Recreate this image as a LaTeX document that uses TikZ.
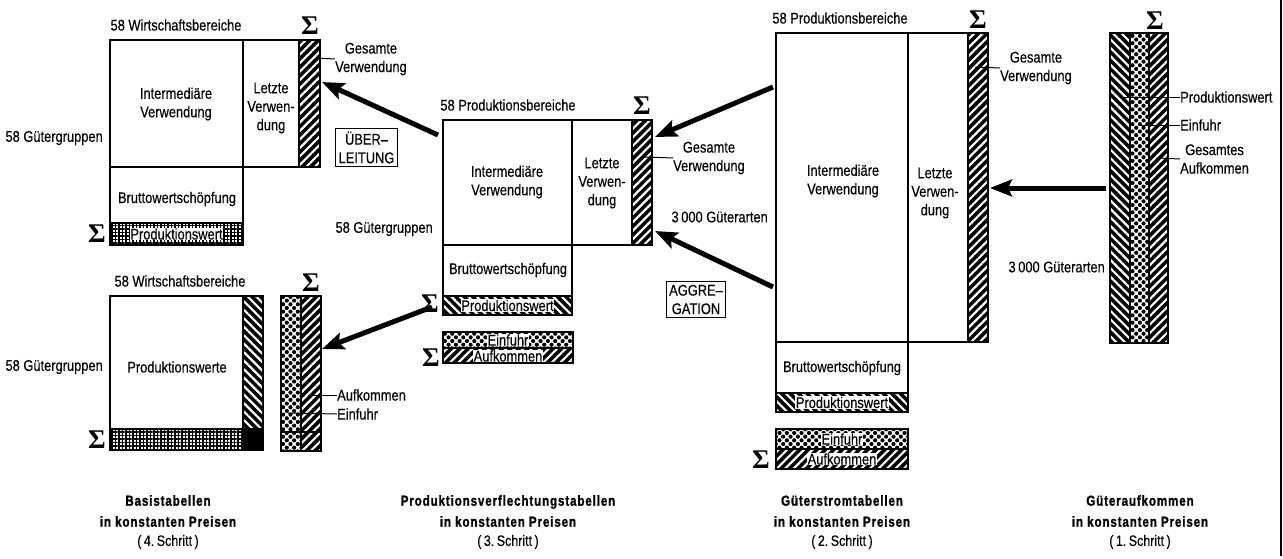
\documentclass[tikz,border=0pt]{standalone}
\usepackage{fontspec}
\setmainfont{Liberation Sans}[FakeStretch=0.83,FakeBold=0.3]
\newfontfamily\titlefont{Liberation Sans}[FakeStretch=0.8,LetterSpace=6,BoldFeatures={FakeBold=1.2}]
\newfontfamily\sigmafont{Liberation Serif}
\usetikzlibrary{patterns.meta,arrows.meta}
\tikzset{
  frame/.style={line width=2.6pt},
  sep/.style={line width=1.6pt},
  lbl/.style={font=\fontsize{15.5}{18.5}\selectfont, inner sep=0pt, align=center},
  sig/.style={font=\sigmafont\bfseries\fontsize{27}{27}\selectfont, inner sep=0pt},
  ttl/.style={font=\titlefont\bfseries\fontsize{14.5}{21}\selectfont, align=center, inner sep=0pt},
  stp/.style={font=\fontsize{15}{16}\selectfont, inner sep=0pt},
  hne/.style={preaction={fill=black}, pattern={Lines[angle=45,distance=6pt,line width=2.2pt]}, pattern color=white},
  hnw/.style={preaction={fill=black}, pattern={Lines[angle=-45,distance=6pt,line width=2.2pt]}, pattern color=white},
  dotfill/.style={preaction={fill=white}, pattern={Dots[radius=2.1pt,distance=5.2pt,angle=45]}, pattern color=black},
  gridfill/.style={preaction={fill=white}, pattern={Hatch[distance=3.5pt,line width=1.3pt,angle=0]}, pattern color=black},
  bandlbl/.style={lbl, fill=white, inner sep=0.6pt},
  arr/.style={line width=5pt, -{Stealth[length=22pt,width=17pt,inset=4pt]}},
  leader/.style={line width=1pt},
  tagbox/.style={lbl, draw, line width=1pt, inner sep=3pt}
}
\begin{document}
\begin{tikzpicture}[x=1pt,y=-1pt]
\useasboundingbox (0,0) rectangle (1283,558);
\fill[white] (0,0) rectangle (1283,558);

% ---------- Basistabellen (top) ----------
\path[hne] (299,40) rectangle (320,167);
\path[gridfill] (110,223) rectangle (243,245);
\draw[frame] (110,40) rectangle (320,167);
\draw[frame] (110,167) rectangle (243,245);
\draw[frame] (243,40) -- (243,167);
\draw[sep] (299,40) -- (299,167);
\draw[frame] (110,223) -- (243,223);
\node[bandlbl] (bpw) at (176.5,234) {Produktionswert};
\node[lbl] (bwb) at (176,25) {58 Wirtschaftsbereiche};
\node[sig] (bs1) at (310,26) {Σ};
\node[lbl] (biv) at (176,104) {Intermediäre\\Verwendung};
\node[lbl] (blv) at (271,108) {Letzte\\Verwen-\\dung};
\node[lbl] (bbw) at (177,199) {Bruttowertschöpfung};
\node[lbl,anchor=east] (bgg) at (103,138) {58 Gütergruppen};
\node[sig] (bs2) at (97,234) {Σ};
\node[lbl,anchor=west] (bgv) at (335,59) {Gesamte\\Verwendung};
\draw[leader] (316,58) -- (bgv.west);
\node[tagbox] (ueb) at (366.5,147.5) {ÜBER–\\LEITUNG};

% ---------- Basistabellen (bottom) ----------
\path[hnw] (243,296) rectangle (263,429);
\path[gridfill] (110,429) rectangle (243,450);
\fill (243,429) rectangle (263,450);
\draw[frame] (110,296) rectangle (263,450);
\draw[frame] (110,429) -- (263,429);
\draw[sep] (243,296) -- (243,450);
\node[lbl] (cwb) at (180,281) {58 Wirtschaftsbereiche};
\node[lbl] (cpw) at (177,367) {Produktionswerte};
\node[lbl,anchor=east] (cgg) at (103,367) {58 Gütergruppen};
\node[sig] (cs1) at (97,440) {Σ};
% column
\path[dotfill] (281,296) rectangle (301,451);
\path[hne] (301,296) rectangle (321,451);
\draw[frame] (281,296) rectangle (321,451);
\draw[sep] (301,296) -- (301,451);
\draw[frame] (281,432) -- (321,432);
\node[sig] (cs2) at (311,283) {Σ};
\node[lbl,anchor=west] (cau) at (337,395) {Aufkommen};
\node[lbl,anchor=west] (cei) at (337,414) {Einfuhr};
\draw[leader] (308,395) -- (cau.west);
\draw[leader] (288,413) -- (cei.west);

% ---------- Produktionsverflechtungstabellen ----------
\path[hne] (632,120) rectangle (652,245);
\path[hnw] (443,296) rectangle (572,315);
\draw[frame] (443,120) rectangle (652,245);
\draw[frame] (443,245) rectangle (572,315);
\draw[frame] (572,120) -- (572,245);
\draw[sep] (632,120) -- (632,245);
\draw[frame] (443,296) -- (572,296);
\node[bandlbl] (mpw) at (507.5,305.5) {Produktionswert};
\path[dotfill] (443,332) rectangle (573,348);
\path[hne] (443,348) rectangle (573,363);
\draw[frame] (443,332) rectangle (573,363);
\draw[sep] (443,348) -- (573,348);
\node[bandlbl] (mei) at (508,340) {Einfuhr};
\node[bandlbl] (mau) at (508,356) {Aufkommen};
\node[lbl] (mpb) at (508,105) {58 Produktionsbereiche};
\node[sig] (ms1) at (642,106) {Σ};
\node[lbl] (miv) at (507,182) {Intermediäre\\Verwendung};
\node[lbl] (mlv) at (602,183) {Letzte\\Verwen-\\dung};
\node[lbl] (mbw) at (508,270) {Bruttowertschöpfung};
\node[lbl,anchor=east] (mgg) at (433,229) {58 Gütergruppen};
\node[sig] (ms2) at (430,304) {Σ};
\node[sig] (ms3) at (431,358) {Σ};
\node[lbl,anchor=west] (mgv) at (673,158) {Gesamte\\Verwendung};
\draw[leader] (645,157) -- (mgv.west);
\node[tagbox] (agg) at (696,299.5) {AGGRE–\\GATION};

% ---------- Güterstromtabellen ----------
\path[hne] (968,33) rectangle (988,342);
\path[hnw] (776,393) rectangle (908,412);
\draw[frame] (776,33) rectangle (988,342);
\draw[frame] (776,342) rectangle (908,412);
\draw[frame] (908,33) -- (908,342);
\draw[sep] (968,33) -- (968,342);
\draw[frame] (776,393) -- (908,393);
\node[bandlbl] (gpw) at (842,402.5) {Produktionswert};
\path[dotfill] (776,429) rectangle (908,449);
\path[hne] (776,449) rectangle (908,469);
\draw[frame] (776,429) rectangle (908,469);
\draw[sep] (776,449) -- (908,449);
\node[bandlbl] (gei) at (842,439) {Einfuhr};
\node[bandlbl] (gau) at (842,459) {Aufkommen};
\node[lbl] (gpb) at (840,18) {58 Produktionsbereiche};
\node[sig] (gs1) at (978,20) {Σ};
\node[lbl] (giv) at (843,181) {Intermediäre\\Verwendung};
\node[lbl] (glv) at (935,193) {Letzte\\Verwen-\\dung};
\node[lbl] (gbw) at (842,368) {Bruttowertschöpfung};
\node[lbl,anchor=east] (gga) at (768,217) {3\,000 Güterarten};
\node[sig] (gs2) at (761,460) {Σ};
\node[lbl,anchor=west] (ggv) at (1000,68) {Gesamte\\Verwendung};
\draw[leader] (975,67) -- (ggv.west);

% ---------- Güteraufkommen ----------
\path[hnw] (1110,33) rectangle (1130,343);
\path[dotfill] (1130,33) rectangle (1149,343);
\path[hne] (1149,33) rectangle (1168,343);
\draw[frame] (1110,33) rectangle (1168,343);
\draw[sep] (1130,33) -- (1130,343);
\draw[sep] (1149,33) -- (1149,343);
\node[sig] (fs1) at (1155,21) {Σ};
\node[lbl,anchor=west] (fpw) at (1180,97) {Produktionswert};
\node[lbl,anchor=west] (fei) at (1180,125) {Einfuhr};
\node[lbl,anchor=west] (fga) at (1180,159) {Gesamtes\\Aufkommen};
\draw[leader] (1122,97) -- (fpw.west);
\draw[leader] (1140,125) -- (fei.west);
\draw[leader] (1158,158) -- (fga.west);
\node[lbl,anchor=east] (fgu) at (1105,267) {3\,000 Güterarten};

% ---------- arrows ----------
\coordinate (a1s) at (438,135);  \coordinate (a1e) at (322,82);
\coordinate (a2s) at (432,307);  \coordinate (a2e) at (322,349);
\coordinate (a3s) at (773,87);   \coordinate (a3e) at (655,137);
\coordinate (a4s) at (773,287);  \coordinate (a4e) at (655,231);
\coordinate (a5s) at (1106,188); \coordinate (a5e) at (990,188);
\draw[arr] (a1s) -- (a1e);
\draw[arr] (a2s) -- (a2e);
\draw[arr] (a3s) -- (a3e);
\draw[arr] (a4s) -- (a4e);
\draw[arr] (a5s) -- (a5e);

% ---------- titles ----------
\node[ttl] (t4) at (168,511) {Basistabellen\\in konstanten Preisen};
\node[stp] (s4) at (168,542) {(\,4.\,Schritt\,)};
\node[ttl] (t3) at (508,511) {Produktionsverflechtungstabellen\\in konstanten Preisen};
\node[stp] (s3) at (508,542) {(\,3.\,Schritt\,)};
\node[ttl] (t2) at (842,511) {Güterstromtabellen\\in konstanten Preisen};
\node[stp] (s2) at (842,542) {(\,2.\,Schritt\,)};
\node[ttl] (t1) at (1140,511) {Güteraufkommen\\in konstanten Preisen};
\node[stp] (s1) at (1140,542) {(\,1.\,Schritt\,)};

% right border
\draw[line width=1.2pt] (1281,0) -- (1281,556);
\end{tikzpicture}
\end{document}
